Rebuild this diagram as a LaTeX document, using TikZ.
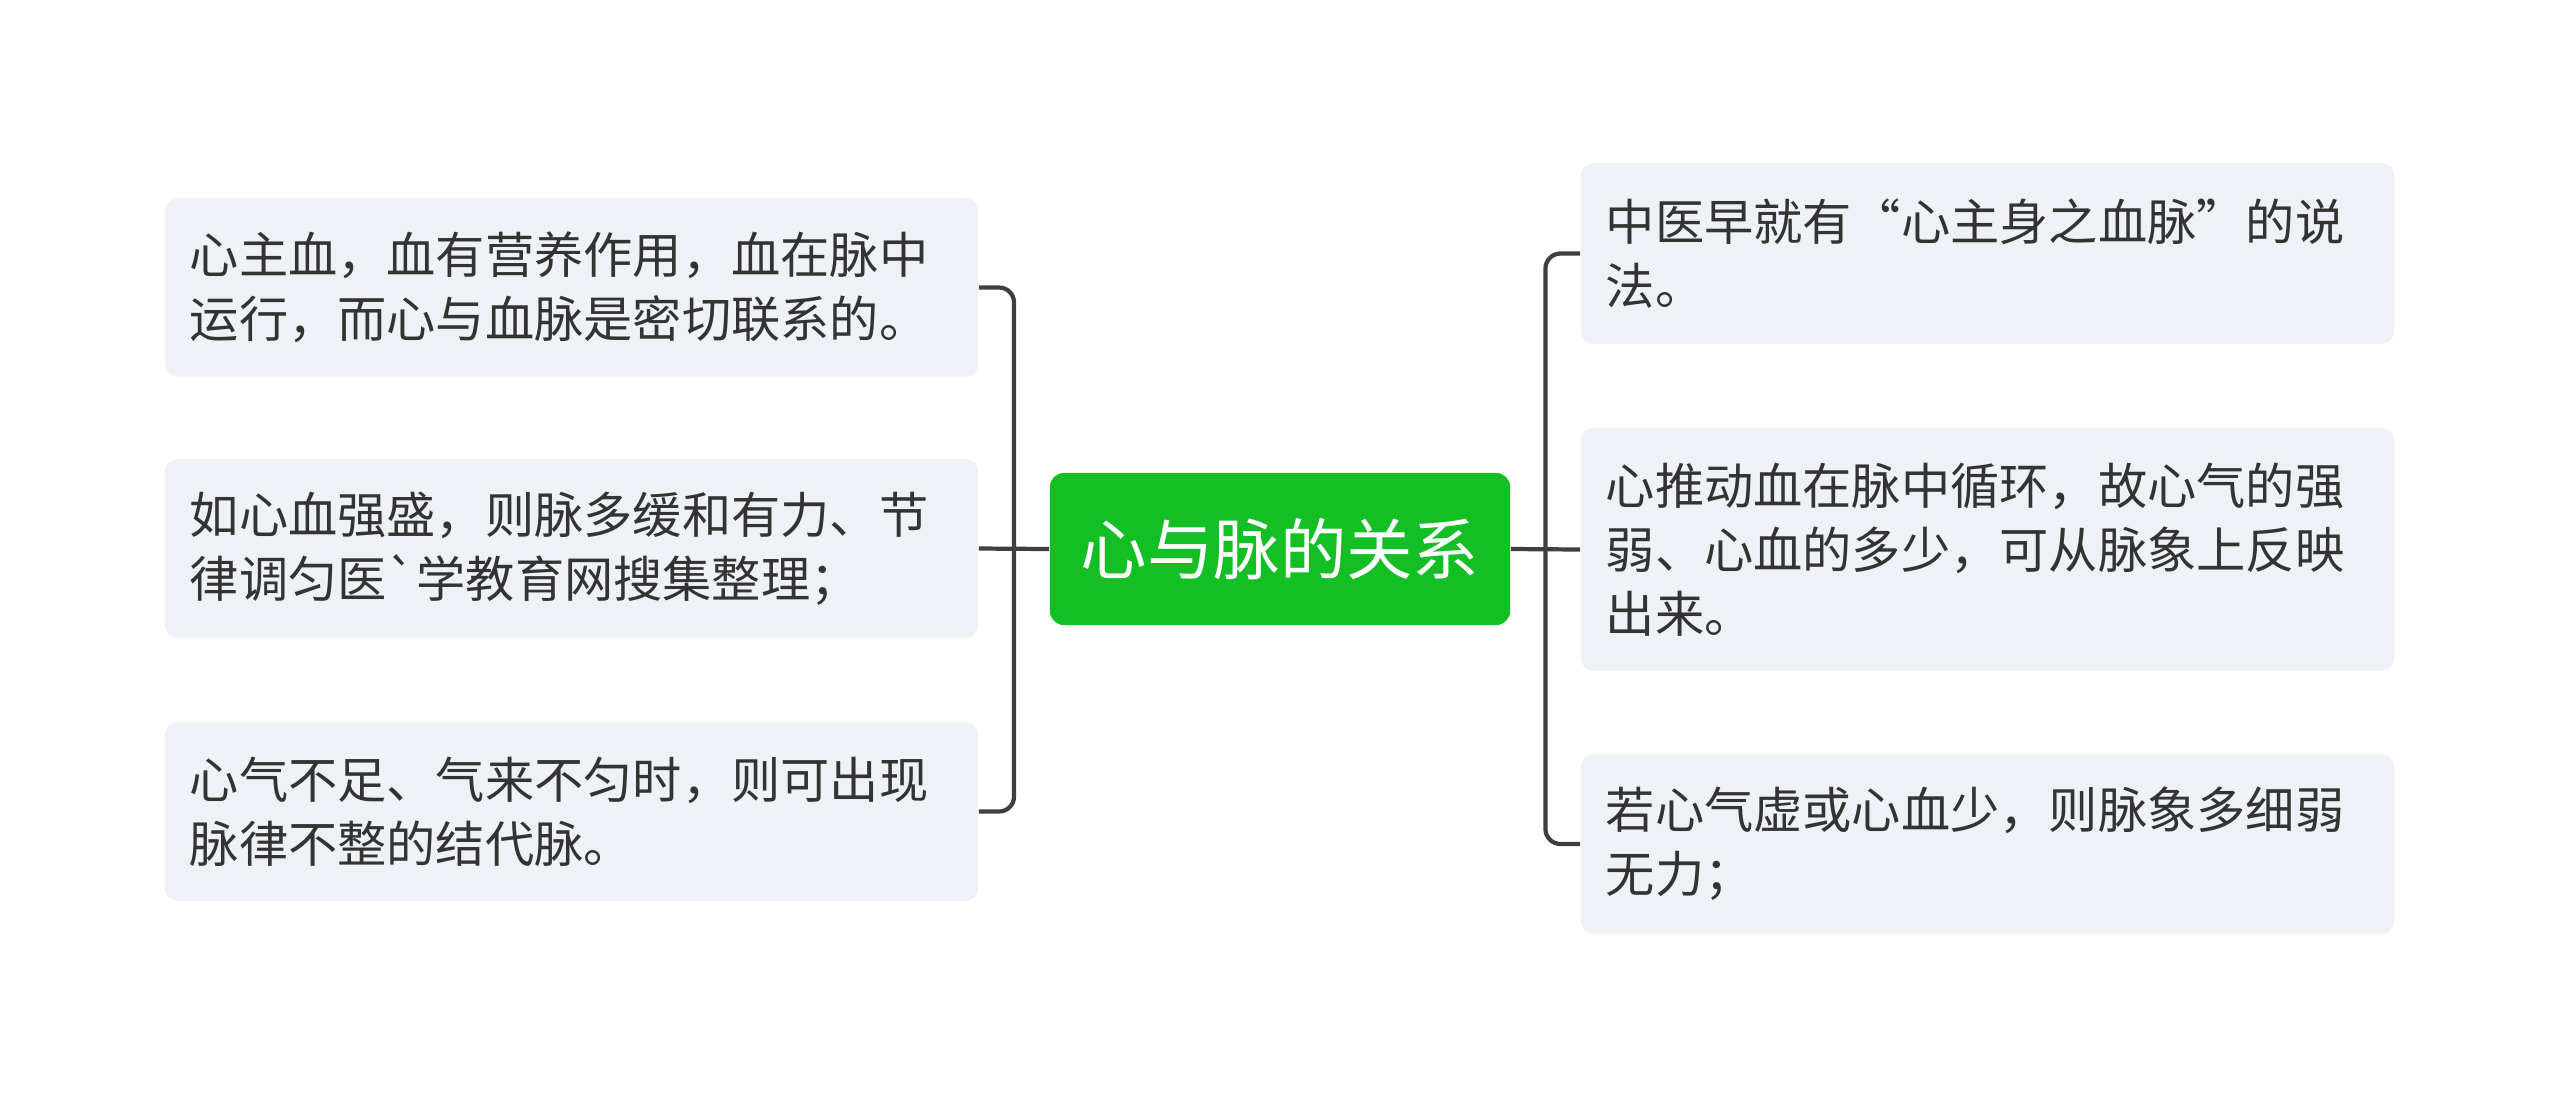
\documentclass[tikz,border=0pt]{standalone}
\usepackage{fontspec}
\newfontfamily\cjk{Noto Sans CJK SC}
\usetikzlibrary{positioning,calc}
\definecolor{rootgreen}{HTML}{13BF24}
\definecolor{leafgray}{HTML}{EEF1F5}
\definecolor{linkgray}{HTML}{3E403E}
\definecolor{textgray}{HTML}{333333}

\begin{document}
\begin{tikzpicture}[
    x=0.01cm, y=-0.01cm,
    rootbox/.style={rectangle, rounded corners=0.14cm, fill=rootgreen, text=white, minimum width=4.6cm, minimum height=1.52cm, font=\cjk\fontsize{18.9pt}{22pt}\selectfont},
    leafbox/.style={rectangle, rounded corners=0.13cm, fill=leafgray, text=textgray, inner xsep=0.25cm, text width=7.63cm, align=left, font=\cjk\fontsize{14pt}{18.2pt}\selectfont},
    link/.style={draw=linkgray, line width=1.2pt, rounded corners=0.15cm}
  ]
    \useasboundingbox (0,0) rectangle (2560,1099);

    \node[rootbox] (root) at (1280,549) {心与脉的关系};

    % left side
    \node[leafbox, minimum height=1.79cm] (left1) at (571.5,287.5) {心主血，血有营养作用，血在脉中\\运行，而心与血脉是密切联系的。};
    \node[leafbox, minimum height=1.79cm] (left2) at (571.5,548.5) {如心血强盛，则脉多缓和有力、节\\律调匀医\textasciigrave 学教育网搜集整理；};
    \node[leafbox, minimum height=1.79cm] (left3) at (571.5,811.5) {心气不足、气来不匀时，则可出现\\脉律不整的结代脉。};

    % right side
    \node[leafbox, minimum height=1.81cm] (right1) at (1987.5,253.5) {中医早就有“心主身之血脉”的说\\法。};
    \node[leafbox, minimum height=2.43cm] (right2) at (1987.5,549.5) {心推动血在脉中循环，故心气的强\\弱、心血的多少，可从脉象上反映\\出来。};
    \node[leafbox, minimum height=1.80cm] (right3) at (1987.5,844) {若心气虚或心血少，则脉象多细弱\\无力；};

    \coordinate (trunkL) at ($(root.west)!0.5!(left2.east)$);
    \coordinate (trunkR) at ($(root.east)!0.5!(right2.west)$);

    \draw[link] (root.west) -- (left2.east);
    \draw[link] (left1.east) -| (trunkL) |- (left3.east);
    \draw[link] (root.east) -- (right2.west);
    \draw[link] (right1.west) -| (trunkR) |- (right3.west);
  \end{tikzpicture}
\end{document}
